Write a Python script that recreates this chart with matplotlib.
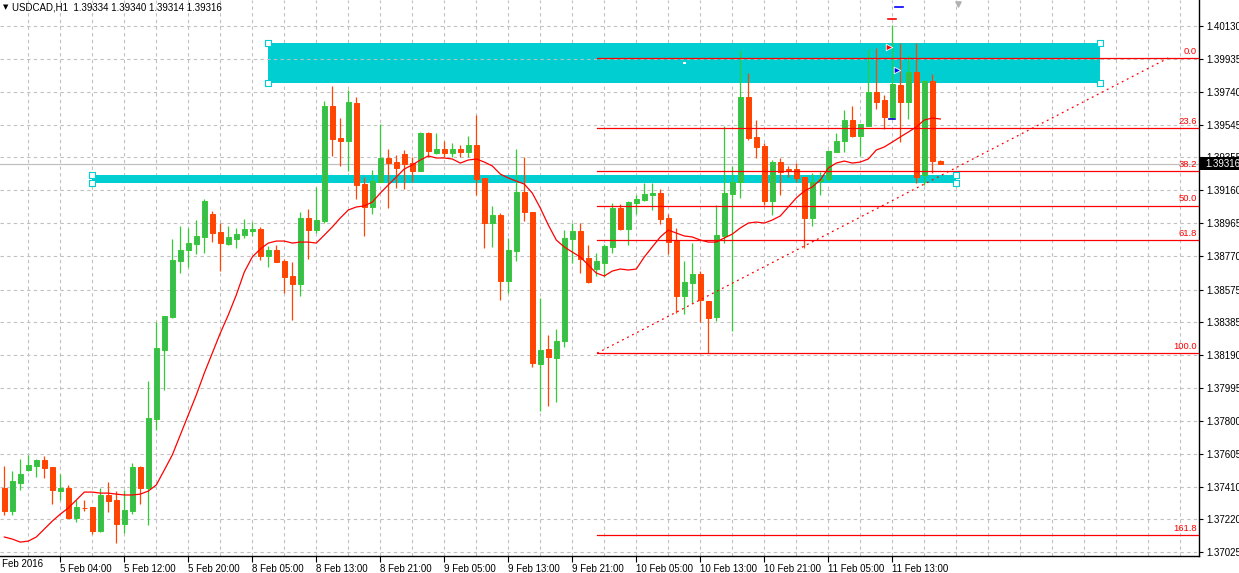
import numpy as np
import matplotlib
matplotlib.use("Agg")
import matplotlib.pyplot as plt
from matplotlib.patches import Rectangle
import matplotlib.transforms as mtransforms

plt.rcParams['font.family'] = ['Liberation Sans', 'DejaVu Sans']

# ---------------- data (USDCAD H1) ----------------
opens = [1.37404, 1.37268, 1.37433, 1.37510, 1.37534, 1.37569, 1.37528, 1.37386, 1.37404, 1.37227,
         1.37288, 1.37292, 1.37150, 1.37363, 1.37333, 1.37191, 1.37268, 1.37528, 1.37404, 1.37811,
         1.38218, 1.38412, 1.38743, 1.38808, 1.38843, 1.38885, 1.39020, 1.38914, 1.38843, 1.38873,
         1.38896, 1.38920, 1.38932, 1.38773, 1.38808, 1.38743, 1.38655, 1.38607, 1.38997, 1.38926,
         1.38979, 1.39658, 1.39469, 1.39451, 1.39675, 1.39197, 1.39062, 1.39209, 1.39351, 1.39327,
         1.39374, 1.39321, 1.39274, 1.39498, 1.39380, 1.39404, 1.39380, 1.39404, 1.39386, 1.39428,
         1.39233, 1.38967, 1.39015, 1.38625, 1.38802, 1.39150, 1.39032, 1.38135, 1.38224, 1.38171,
         1.38271, 1.38873, 1.38920, 1.38761, 1.38696, 1.38731, 1.38826, 1.39056, 1.38932, 1.39085,
         1.39103, 1.39133, 1.39144, 1.38997, 1.38867, 1.38537, 1.38613, 1.38666, 1.38507, 1.38413,
         1.38891, 1.39138, 1.39209, 1.39711, 1.39475, 1.39422, 1.39097, 1.39327, 1.39286, 1.39286,
         1.39239, 1.38997, 1.39215, 1.39227, 1.39386, 1.39451, 1.39575, 1.39481, 1.39540, 1.39740,
         1.39693, 1.39593, 1.39782, 1.39681, 1.39858, 1.39251, 1.39805, 1.39334]
highs = [1.37534, 1.37504, 1.37575, 1.37599, 1.37575, 1.37593, 1.37528, 1.37486, 1.37422, 1.37333,
         1.37333, 1.37292, 1.37404, 1.37439, 1.37386, 1.37392, 1.37551, 1.37534, 1.38035, 1.38383,
         1.38421, 1.38873, 1.38950, 1.38938, 1.38985, 1.39109, 1.39038, 1.38967, 1.38950, 1.38938,
         1.38991, 1.38973, 1.38944, 1.38832, 1.38837, 1.38755, 1.38737, 1.39032, 1.39050, 1.39180,
         1.39687, 1.39776, 1.39587, 1.39752, 1.39711, 1.39239, 1.39280, 1.39551, 1.39404, 1.39369,
         1.39398, 1.39357, 1.39504, 1.39504, 1.39498, 1.39451, 1.39439, 1.39428, 1.39481, 1.39605,
         1.39233, 1.39068, 1.39026, 1.38879, 1.39404, 1.39357, 1.39032, 1.38525, 1.38307, 1.38342,
         1.38926, 1.38967, 1.38967, 1.38837, 1.38790, 1.38843, 1.39085, 1.39079, 1.39097, 1.39133,
         1.39203, 1.39203, 1.39168, 1.39020, 1.38938, 1.38743, 1.38849, 1.38684, 1.38507, 1.39073,
         1.39540, 1.39304, 1.39988, 1.39852, 1.39575, 1.39439, 1.39339, 1.39351, 1.39304, 1.39321,
         1.39239, 1.39262, 1.39268, 1.39398, 1.39498, 1.39634, 1.39658, 1.39553, 1.39994, 1.40000,
         1.39722, 1.40136, 1.40029, 1.39959, 1.40029, 1.39811, 1.39846, 1.39340]
lows = [1.37245, 1.37245, 1.37392, 1.37504, 1.37469, 1.37463, 1.37309, 1.37333, 1.37227, 1.37203,
        1.37268, 1.37132, 1.37144, 1.37262, 1.37079, 1.37138, 1.37250, 1.37309, 1.37186, 1.37746,
        1.37982, 1.38407, 1.38672, 1.38708, 1.38784, 1.38790, 1.38855, 1.38684, 1.38837, 1.38820,
        1.38879, 1.38891, 1.38749, 1.38708, 1.38735, 1.38554, 1.38395, 1.38537, 1.38755, 1.38908,
        1.38967, 1.39363, 1.39304, 1.39274, 1.39109, 1.38891, 1.39020, 1.39207, 1.39056, 1.39174,
        1.39168, 1.39209, 1.39272, 1.39357, 1.39374, 1.39357, 1.39357, 1.39357, 1.39357, 1.39133,
        1.38820, 1.38826, 1.38513, 1.38554, 1.38743, 1.38979, 1.38118, 1.37858, 1.37888, 1.37911,
        1.38236, 1.38731, 1.38672, 1.38616, 1.38655, 1.38649, 1.38790, 1.38926, 1.38837, 1.39020,
        1.39100, 1.39044, 1.38961, 1.38784, 1.38436, 1.38430, 1.38495, 1.38383, 1.38200, 1.38389,
        1.38849, 1.38330, 1.39115, 1.39457, 1.39351, 1.39073, 1.39015, 1.39133, 1.39239, 1.39209,
        1.38820, 1.38950, 1.39133, 1.39215, 1.39384, 1.39386, 1.39475, 1.39363, 1.39538, 1.39640,
        1.39522, 1.39581, 1.39445, 1.39581, 1.39203, 1.39192, 1.39262, 1.39314]
closes = [1.37268, 1.37445, 1.37486, 1.37540, 1.37569, 1.37522, 1.37392, 1.37404, 1.37227, 1.37292,
          1.37286, 1.37150, 1.37363, 1.37327, 1.37191, 1.37274, 1.37528, 1.37404, 1.37817, 1.38230,
          1.38418, 1.38749, 1.38808, 1.38849, 1.38891, 1.39097, 1.38908, 1.38849, 1.38885, 1.38902,
          1.38932, 1.38932, 1.38773, 1.38808, 1.38737, 1.38649, 1.38607, 1.38997, 1.38926, 1.38985,
          1.39658, 1.39463, 1.39451, 1.39681, 1.39192, 1.39062, 1.39215, 1.39351, 1.39321, 1.39292,
          1.39315, 1.39274, 1.39498, 1.39392, 1.39404, 1.39380, 1.39404, 1.39386, 1.39428, 1.39227,
          1.38967, 1.39015, 1.38625, 1.38808, 1.39150, 1.39032, 1.38141, 1.38218, 1.38177, 1.38271,
          1.38879, 1.38920, 1.38755, 1.38619, 1.38743, 1.38832, 1.39056, 1.38932, 1.39091, 1.39109,
          1.39138, 1.39144, 1.38991, 1.38855, 1.38537, 1.38619, 1.38666, 1.38513, 1.38407, 1.38896,
          1.39144, 1.39209, 1.39711, 1.39469, 1.39416, 1.39097, 1.39327, 1.39268, 1.39280, 1.39233,
          1.38997, 1.39209, 1.39227, 1.39392, 1.39451, 1.39575, 1.39481, 1.39551, 1.39740, 1.39681,
          1.39593, 1.39787, 1.39681, 1.39858, 1.39239, 1.39805, 1.39333, 1.39316]
ma_values = [1.37115, 1.37103, 1.37085, 1.37091, 1.37115, 1.37162, 1.37209, 1.37250, 1.37286, 1.37333,
             1.37380, 1.37380, 1.37374, 1.37374, 1.37368, 1.37363, 1.37363, 1.37368, 1.37386, 1.37422,
             1.37510, 1.37599, 1.37717, 1.37835, 1.37953, 1.38082, 1.38200, 1.38318, 1.38425, 1.38543,
             1.38678, 1.38767, 1.38814, 1.38849, 1.38861, 1.38861, 1.38849, 1.38855, 1.38855, 1.38849,
             1.38896, 1.38944, 1.38997, 1.39044, 1.39062, 1.39068, 1.39091, 1.39144, 1.39192, 1.39239,
             1.39286, 1.39310, 1.39339, 1.39363, 1.39351, 1.39351, 1.39345, 1.39321, 1.39339, 1.39345,
             1.39327, 1.39304, 1.39256, 1.39233, 1.39215, 1.39197, 1.39144, 1.39056, 1.38956, 1.38867,
             1.38826, 1.38796, 1.38767, 1.38720, 1.38672, 1.38655, 1.38684, 1.38696, 1.38690, 1.38696,
             1.38767, 1.38826, 1.38885, 1.38926, 1.38908, 1.38891, 1.38885, 1.38867, 1.38855, 1.38855,
             1.38879, 1.38902, 1.38938, 1.38967, 1.38973, 1.38967, 1.38985, 1.39009, 1.39062, 1.39115,
             1.39156, 1.39180, 1.39221, 1.39292, 1.39321, 1.39333, 1.39321, 1.39327, 1.39345, 1.39398,
             1.39416, 1.39445, 1.39475, 1.39504, 1.39534, 1.39575, 1.39587, 1.39581]

price_ticks = [1.40130, 1.39935, 1.39740, 1.39545, 1.39355, 1.39160, 1.38965, 1.38770, 1.38575,
               1.38385, 1.38190, 1.37995, 1.37800, 1.37605, 1.37410, 1.37220, 1.37025]
time_labels = ["5 Feb 04:00", "5 Feb 12:00", "5 Feb 20:00", "8 Feb 05:00", "8 Feb 13:00",
               "8 Feb 21:00", "9 Feb 05:00", "9 Feb 13:00", "9 Feb 21:00", "10 Feb 05:00",
               "10 Feb 13:00", "10 Feb 21:00", "11 Feb 05:00", "11 Feb 13:00"]
time_label_bars = [7, 15, 23, 31, 39, 47, 55, 63, 71, 79, 87, 95, 103, 111]
first_label = "4 Feb 2016"

title = "USDCAD,H1  1.39334 1.39340 1.39314 1.39316"
last_price = 1.39316

# drawn objects
zone_top = (33, 137, 1.39793, 1.40029)      # bar from, bar to, price low, price high
zone_band = (11, 119, 1.39203, 1.39251)
fib_start_bar = 74.1
fib_trend_end_bar = 145.5
fib_high = 1.39941
fib_low = 1.38200
fib_levels = [0.0, 23.6, 38.2, 50.0, 61.8, 100.0, 161.8]

# ---------------- figure ----------------
W, H = 1239, 573
DPI = 100
fig = plt.figure(figsize=(W / DPI, H / DPI), dpi=DPI)
fig.patch.set_facecolor('white')
ax = fig.add_axes([0, 17 / H, 1199 / W, 556 / H])
ax.set_facecolor('white')

x_left, x_right = -0.5375, 149.34
ax.set_xlim(x_left, x_right)
ax.set_ylim(1.37003, 1.40283)

GRID = '#C0C0C0'
CYAN = '#00CED1'
BULL_FILL = '#3CBB50'
BULL_EDGE = '#32CD32'
BEAR = '#FF4500'

# grid
ax.set_yticks(price_ticks)
ax.set_yticklabels([f"{p:.5f}" for p in price_ticks])
ax.grid(axis='y', color=GRID, linestyle=(0, (3, 3)), linewidth=0.8, zorder=0)
for gx in np.arange(3, 149, 4):
    ax.axvline(gx, color=GRID, linestyle=(0, (3, 3)), linewidth=0.8, zorder=0)

# objects behind candles
def rect(z, ec='none'):
    b0, b1, p0, p1 = z
    ax.add_patch(Rectangle((b0, p0), b1 - b0, p1 - p0, facecolor=CYAN, edgecolor=ec,
                           linewidth=0, zorder=1))
rect(zone_top)
rect(zone_band)

ax.axhline(last_price, color='#C0C0C0', linewidth=0.9, zorder=1.5)

# candles
o = np.array(opens); h = np.array(highs); l = np.array(lows); c = np.array(closes)
idx = np.arange(len(o))
up = c >= o
wick_col = [BULL_EDGE if u else BEAR for u in up]
fill_col = [BULL_FILL if u else BEAR for u in up]
ax.vlines(idx, l, h, colors=wick_col, linewidth=0.9, zorder=3)
ax.bar(idx, np.abs(c - o), bottom=np.minimum(o, c), width=0.6, color=fill_col,
       edgecolor=wick_col, linewidth=0.7, zorder=4)

# moving average
ax.plot(idx, ma_values, color='#FF0000', linewidth=0.9, zorder=5)

# fibonacci
fib_prices = [fib_high - (fib_high - fib_low) * lv / 100.0 for lv in fib_levels]
lab_tr = mtransforms.offset_copy(ax.get_yaxis_transform(), fig=fig, x=0, y=1.5, units='points')
for lv, fp in zip(fib_levels, fib_prices):
    ax.plot([fib_start_bar, x_right], [fp, fp], color='#FF0000', linewidth=0.9, zorder=5)
    ax.text(1197 / 1199, fp, f"{lv:.1f}", transform=lab_tr, ha='right', va='bottom',
            color='#FF0000', fontsize=6.8, zorder=6)
ax.plot([fib_start_bar, fib_trend_end_bar], [fib_low, fib_high], color='#FF0000',
        linewidth=0.9, linestyle=(0, (1.5, 3)), zorder=5)

# handles of the objects
def handles(z):
    b0, b1, p0, p1 = z
    ax.scatter([b0, b0, b1, b1], [p0, p1, p0, p1], marker='s', s=14, facecolor='white',
               edgecolor=CYAN, linewidths=0.8, zorder=7)
handles(zone_top)
handles(zone_band)
ax.scatter([(zone_top[0] + zone_top[1]) / 2], [(zone_top[2] + zone_top[3]) / 2], marker='s',
           s=4, facecolor='white', edgecolor='none', zorder=7)

# trade markers
ax.plot([110.5, 111.5], [1.40171, 1.40171], color='#FF0000', linewidth=1.2, zorder=7)
ax.plot([111.4, 112.4], [1.40242, 1.40242], color='#0000FF', linewidth=1.2, zorder=7)
ax.plot([110.6, 111.4], [1.39581, 1.39581], color='#0000CC', linewidth=1.2, zorder=7)
ax.scatter([110.6], [1.40006], marker='>', s=22, color='#FF0000', edgecolor='white',
           linewidths=0.6, zorder=8)
ax.scatter([111.6], [1.39870], marker='>', s=22, color='#0000FF', edgecolor='white',
           linewidths=0.6, zorder=8)
ax.scatter([119.2], [1.40262], marker='v', s=14, color='#B0B0B0', zorder=8, clip_on=False)

# axes styling
for s in ['left', 'top']:
    ax.spines[s].set_visible(False)
for s in ['right', 'bottom']:
    ax.spines[s].set_color('black')
    ax.spines[s].set_linewidth(1.0)
ax.yaxis.tick_right()
ax.tick_params(axis='y', direction='out', length=3, width=0.8, pad=2, labelsize=7,
               colors='black')
ax.set_xticks(time_label_bars)
ax.set_xticklabels(time_labels, ha='left', fontsize=7)
ax.tick_params(axis='x', direction='out', length=4, width=0.8, pad=1.5)
ax.text(-1.3, -0.006, first_label, transform=ax.get_xaxis_transform(), ha='left', va='top',
        fontsize=7, clip_on=False)

# title
fig.text(3 / W, 1 - 7 / H, "\u25BC", fontsize=5, va='center', ha='left',
         family=['DejaVu Sans'])
fig.text(12 / W, 1 - 7 / H, title, fontsize=7, va='center', ha='left')

# last price label
y_lp = ax.transData.transform((0, last_price))[1]
fig.patches.append(Rectangle((1200 / W, (y_lp - 6.5) / H), 39 / W, 13 / H,
                             transform=fig.transFigure, facecolor='black', edgecolor='none',
                             zorder=10))
fig.text(1205 / W, y_lp / H, f"{last_price:.5f}", color='white', fontsize=7,
         va='center', ha='left', zorder=11)

fig.savefig("out.png", dpi=DPI, facecolor='white')
